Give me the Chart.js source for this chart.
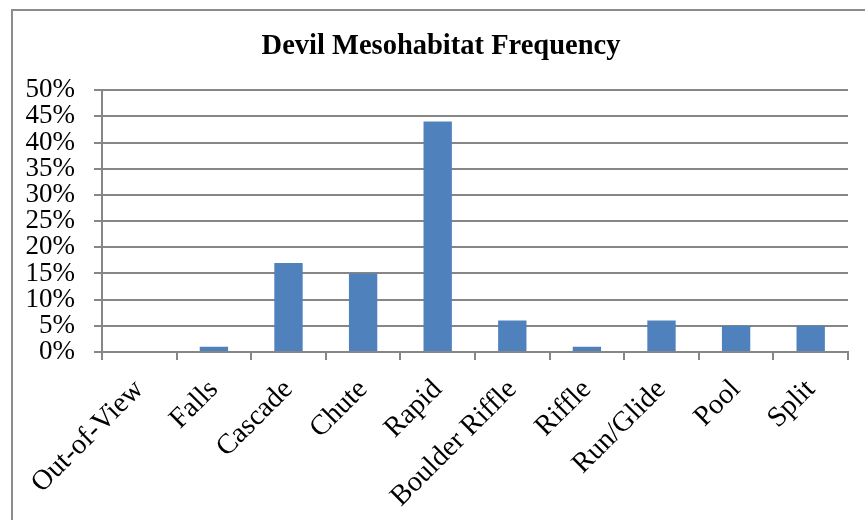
<!DOCTYPE html>
<html>
<head>
<meta charset="utf-8">
<script src="https://cdn.jsdelivr.net/npm/chart.js@4"></script>
<style>
  body { margin: 0; background: #fff; overflow: hidden; }
  .frame { position: absolute; left: 11px; top: 9px; width: 900px; height: 600px;
           border-left: 2px solid #8c8c8c; border-top: 2px solid #8c8c8c; }
  .wrap { position: absolute; left: 0; top: 0; width: 865px; height: 520px; }
</style>
</head>
<body>
<div class="frame"></div>
<div class="wrap"><canvas id="myChart"></canvas></div>
<script>
const categories = ["Out-of-View", "Falls", "Cascade", "Chute", "Rapid", "Boulder Riffle",
                    "Riffle", "Run/Glide", "Pool", "Split"];
const frequency = [0, 1, 17, 15, 44, 6, 1, 6, 5, 5];
const yTicks = [0, 5, 10, 15, 20, 25, 30, 35, 40, 45, 50];

const ctx = document.getElementById('myChart').getContext('2d');

// the title sits a bit right of the canvas centre, over the framed box
const nudgeTitle = {
  id: 'nudgeTitle',
  afterLayout(chart) {
    if (chart.titleBlock) chart.titleBlock.left += 14;
  }
};

const myChart = new Chart(ctx, {
  type: 'bar',
  data: {
    labels: categories,
    datasets: [{
      label: 'Frequency',
      data: frequency,
      backgroundColor: '#4f81bd',
      borderWidth: 0,
      barPercentage: 0.38,
      categoryPercentage: 1
    }]
  },
  options: {
    responsive: true,
    maintainAspectRatio: false,
    animation: false,
    layout: { padding: { top: 0, right: 17, left: 20, bottom: 0 } },
    plugins: {
      legend: { display: false },
      tooltip: { enabled: false },
      title: {
        display: true,
        text: 'Devil Mesohabitat Frequency',
        color: '#000',
        font: { family: 'Liberation Serif', size: 28.5, weight: 'bold', lineHeight: 1.2 },
        padding: { top: 30, bottom: 26 }
      }
    },
    scales: {
      x: {
        offset: true,
        afterFit: axis => { axis.height = 168; },
        grid: {
          offset: true,
          drawOnChartArea: false,
          drawTicks: true,
          tickLength: 8,
          color: '#868686',
          lineWidth: 2
        },
        border: { color: '#868686', width: 2 },
        ticks: {
          color: '#000',
          font: { family: 'Liberation Serif', size: 28.5 },
          padding: 13,
          minRotation: 45,
          maxRotation: 45,
          autoSkip: false
        }
      },
      y: {
        min: 0,
        max: 50,
        afterFit: axis => { axis.width = 82; },
        afterBuildTicks: axis => { axis.ticks = yTicks.map(v => ({ value: v })); },
        grid: { color: '#868686', lineWidth: 2, tickLength: 8 },
        border: { color: '#868686', width: 2 },
        ticks: {
          color: '#000',
          font: { family: 'Liberation Serif', size: 27, lineHeight: 1 },
          padding: 19,
          autoSkip: false,
          callback: v => v + '%'
        }
      }
    }
  },
  plugins: [nudgeTitle]
});
</script>
</body>
</html>
